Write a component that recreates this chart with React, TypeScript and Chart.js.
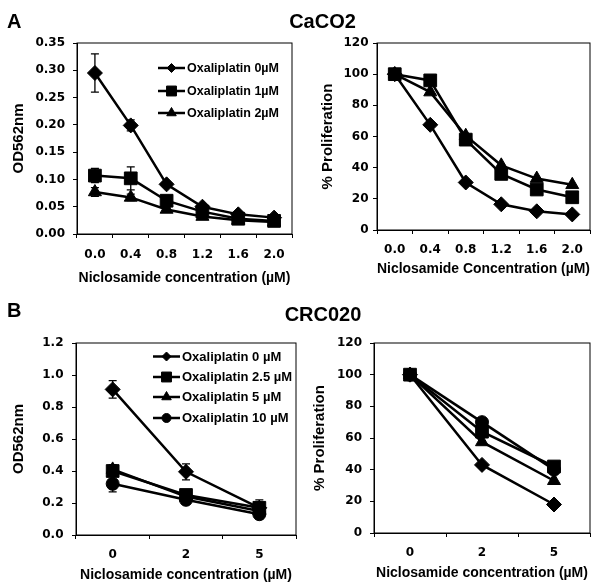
import React, { useEffect, useRef } from 'react';
import { Chart, registerables } from 'chart.js';
import { drawPoint } from 'chart.js/helpers';

Chart.register(...registerables);

// ---------- DATA ----------
const caco2Conc = ['0.0', '0.4', '0.8', '1.2', '1.6', '2.0'];
const caco2Series = ['Oxaliplatin 0µM', 'Oxaliplatin 1µM', 'Oxaliplatin 2µM'];
const caco2OdOx0 = [0.295, 0.199, 0.091, 0.05, 0.036, 0.03];
const caco2OdOx1 = [0.107, 0.102, 0.061, 0.041, 0.028, 0.024];
const caco2OdOx2 = [0.077, 0.067, 0.045, 0.032, 0.025, 0.022];
const caco2OdErr0 = [0.035, 0.01, 0.004, 0.003, 0.002, 0.002];
const caco2OdErr1 = [0.013, 0.021, 0.006, 0.003, 0.002, 0.002];
const caco2OdErr2 = [0.008, 0.006, 0.004, 0.002, 0.002, 0.002];
const caco2ProlifOx0 = [100, 67.5, 30.5, 16.5, 12, 10];
const caco2ProlifOx1 = [100, 96, 58, 36, 26, 21];
const caco2ProlifOx2 = [100, 88.5, 60.5, 41.5, 33, 29];

const crcConc = ['0', '2', '5'];
const crcSeries = ['Oxaliplatin 0 µM', 'Oxaliplatin 2.5 µM', 'Oxaliplatin 5 µM', 'Oxaliplatin 10 µM'];
const crcOdOx0 = [0.91, 0.395, 0.17];
const crcOdOx25 = [0.4, 0.25, 0.17];
const crcOdOx5 = [0.41, 0.24, 0.15];
const crcOdOx10 = [0.32, 0.22, 0.13];
const crcOdErr0 = [0.055, 0.05, 0.03];
const crcOdErr25 = [0.03, 0.02, 0.05];
const crcOdErr5 = [0.03, 0.02, 0.03];
const crcOdErr10 = [0.05, 0.02, 0.03];
const crcProlifOx0 = [100, 43, 18];
const crcProlifOx25 = [100, 64, 42];
const crcProlifOx5 = [100, 57.5, 33];
const crcProlifOx10 = [100, 70, 40];

// ---------- STYLE / LAYOUT ----------
const PAGE_W = 600;
const PAGE_H = 586;
const TICK_FONT = { family: '"DejaVu Sans", Verdana, sans-serif', size: 12, weight: 'bold' as const };
const XTITLE_FONT = { family: '"Liberation Sans", Arial, sans-serif', size: 14, weight: 'bold' as const };
const YTITLE_FONT = { family: '"Liberation Sans", Arial, sans-serif', size: 15, weight: 'bold' as const };

const MARKERS: Record<string, { style: string; radius: number; legendRadius: number }> = {
  diamond: { style: 'rectRot', radius: 7.5, legendRadius: 4.5 },
  square: { style: 'rect', radius: 9, legendRadius: 7 },
  triangle: { style: 'triangle', radius: 7.5, legendRadius: 5.5 },
  circle: { style: 'circle', radius: 6.5, legendRadius: 4.5 },
};

type Series = { label: string; data: number[]; err?: number[]; marker: string };
type Spec = {
  labels: string[];
  series: Series[];
  yMin: number;
  yMax: number;
  yStep: number;
  yDec: number;
  yTitle: string;
  xTitle: string;
  plot: { l: number; t: number; r: number; b: number };
  yTitleX: number;
  yTickPad: number;
  xTickY: number;
  xTitleY: number;
  legend?: { x0: number; x1: number; textX: number; ys: number[]; size: number };
};

const specs: Spec[] = [
  {
    labels: caco2Conc,
    series: [
      { label: caco2Series[0], data: caco2OdOx0, err: caco2OdErr0, marker: 'diamond' },
      { label: caco2Series[1], data: caco2OdOx1, err: caco2OdErr1, marker: 'square' },
      { label: caco2Series[2], data: caco2OdOx2, err: caco2OdErr2, marker: 'triangle' },
    ],
    yMin: 0, yMax: 0.35, yStep: 0.05, yDec: 2,
    yTitle: 'OD562nm',
    xTitle: 'Niclosamide concentration (µM)',
    plot: { l: 77, t: 43, r: 292, b: 234 },
    yTitleX: 19, yTickPad: 8, xTickY: 255, xTitleY: 278,
    legend: { x0: 158, x1: 185, textX: 187, ys: [68, 91, 113], size: 12.5 },
  },
  {
    labels: caco2Conc,
    series: [
      { label: caco2Series[0], data: caco2ProlifOx0, marker: 'diamond' },
      { label: caco2Series[1], data: caco2ProlifOx1, marker: 'square' },
      { label: caco2Series[2], data: caco2ProlifOx2, marker: 'triangle' },
    ],
    yMin: 0, yMax: 120, yStep: 20, yDec: 0,
    yTitle: '% Proliferation',
    xTitle: 'Niclosamide Concentration (µM)',
    plot: { l: 377, t: 43, r: 593, b: 230 },
    yTitleX: 327.5, yTickPad: 4.5, xTickY: 250, xTitleY: 269,
  },
  {
    labels: crcConc,
    series: [
      { label: crcSeries[0], data: crcOdOx0, err: crcOdErr0, marker: 'diamond' },
      { label: crcSeries[1], data: crcOdOx25, err: crcOdErr25, marker: 'square' },
      { label: crcSeries[2], data: crcOdOx5, err: crcOdErr5, marker: 'triangle' },
      { label: crcSeries[3], data: crcOdOx10, err: crcOdErr10, marker: 'circle' },
    ],
    yMin: 0, yMax: 1.2, yStep: 0.2, yDec: 1,
    yTitle: 'OD562nm',
    xTitle: 'Niclosamide concentration (µM)',
    plot: { l: 76, t: 343, r: 296, b: 535 },
    yTitleX: 19, yTickPad: 8.5, xTickY: 555, xTitleY: 575,
    legend: { x0: 153, x1: 180, textX: 182, ys: [356.5, 377, 397, 418], size: 13 },
  },
  {
    labels: crcConc,
    series: [
      { label: crcSeries[0], data: crcProlifOx0, marker: 'diamond' },
      { label: crcSeries[1], data: crcProlifOx25, marker: 'square' },
      { label: crcSeries[2], data: crcProlifOx5, marker: 'triangle' },
      { label: crcSeries[3], data: crcProlifOx10, marker: 'circle' },
    ],
    yMin: 0, yMax: 120, yStep: 20, yDec: 0,
    yTitle: '% Proliferation',
    xTitle: 'Niclosamide concentration (µM)',
    plot: { l: 374, t: 343, r: 593, b: 533 },
    yTitleX: 320, yTickPad: 8, xTickY: 553, xTitleY: 573,
  },
];

function Panel({ spec }: { spec: Spec }) {
  const ref = useRef<HTMLCanvasElement>(null);
  useEffect(() => {
    const s = spec;
    const padLeft = s.yTitleX - (YTITLE_FONT.size * 1.2) / 2;
    const xAxisBottom = s.xTitleY + (XTITLE_FONT.size * 1.2) / 2;
    const xTickPad = s.xTickY - s.plot.b - 4 - (TICK_FONT.size * 1.2) / 2;

    const framePlugin = {
      id: 'frame',
      beforeDatasetsDraw(chart: any) {
        const { ctx, chartArea: a } = chart;
        ctx.save();
        ctx.strokeStyle = '#000';
        ctx.lineWidth = 1;
        ctx.strokeRect(a.left, a.top, a.right - a.left, a.bottom - a.top);
        ctx.restore();
      },
    };

    const errorPlugin = {
      id: 'errorBars',
      beforeDatasetsDraw(chart: any) {
        const { ctx } = chart;
        const xs = chart.scales.x;
        const ys = chart.scales.y;
        ctx.save();
        ctx.strokeStyle = '#000';
        ctx.lineWidth = 1.3;
        s.series.forEach((se) => {
          if (!se.err) return;
          se.data.forEach((v, i) => {
            const e = se.err![i];
            const x = xs.getPixelForValue(i);
            const yt = ys.getPixelForValue(v + e);
            const yb = ys.getPixelForValue(v - e);
            ctx.beginPath();
            ctx.moveTo(x, yt);
            ctx.lineTo(x, yb);
            ctx.moveTo(x - 4, yt);
            ctx.lineTo(x + 4, yt);
            ctx.moveTo(x - 4, yb);
            ctx.lineTo(x + 4, yb);
            ctx.stroke();
          });
        });
        ctx.restore();
      },
    };

    const legendPlugin = {
      id: 'lineLegend',
      afterDraw(chart: any) {
        const lg = s.legend;
        if (!lg) return;
        const { ctx } = chart;
        ctx.save();
        s.series.forEach((se, i) => {
          const y = lg.ys[i];
          const m = MARKERS[se.marker];
          ctx.strokeStyle = '#000';
          ctx.fillStyle = '#000';
          ctx.lineWidth = 2.5;
          ctx.beginPath();
          ctx.moveTo(lg.x0, y);
          ctx.lineTo(lg.x1, y);
          ctx.stroke();
          ctx.lineWidth = 1;
          drawPoint(ctx, { pointStyle: m.style as any, radius: m.legendRadius, rotation: 0, borderWidth: 1 } as any, (lg.x0 + lg.x1) / 2, y);
          ctx.font = `bold ${lg.size}px "Liberation Sans", Arial, sans-serif`;
          ctx.textBaseline = 'middle';
          ctx.textAlign = 'left';
          ctx.fillText(se.label, lg.textX, y + 0.5);
        });
        ctx.restore();
      },
    };

    const chart = new Chart(ref.current as HTMLCanvasElement, {
      type: 'line',
      data: {
        labels: s.labels,
        datasets: s.series.map((se) => ({
          label: se.label,
          data: se.data,
          borderColor: '#000',
          backgroundColor: '#000',
          borderWidth: 2.5,
          pointStyle: MARKERS[se.marker].style as any,
          pointRadius: MARKERS[se.marker].radius,
          pointBackgroundColor: '#000',
          pointBorderColor: '#000',
          pointBorderWidth: 1,
          tension: 0,
          fill: false,
        })),
      },
      options: {
        responsive: false,
        maintainAspectRatio: false,
        animation: false,
        layout: {
          padding: {
            left: padLeft,
            top: s.plot.t,
            right: PAGE_W - s.plot.r,
            bottom: PAGE_H - xAxisBottom,
          },
        },
        plugins: { legend: { display: false }, tooltip: { enabled: false }, title: { display: false } },
        scales: {
          x: {
            type: 'category',
            offset: true,
            grid: { offset: true, drawOnChartArea: false, drawTicks: true, tickLength: 4, color: '#000', lineWidth: 1 },
            border: { display: true, color: '#000', width: 1 },
            ticks: { color: '#000', font: TICK_FONT, padding: xTickPad, autoSkip: false, maxRotation: 0, minRotation: 0 },
            title: { display: true, text: s.xTitle, color: '#000', font: XTITLE_FONT, padding: 0 },
            afterFit: (sc: any) => {
              sc.height = xAxisBottom - s.plot.b;
            },
          },
          y: {
            type: 'linear',
            min: s.yMin,
            max: s.yMax,
            grid: { drawOnChartArea: false, drawTicks: true, tickLength: 4, color: '#000', lineWidth: 1 },
            border: { display: true, color: '#000', width: 1 },
            ticks: {
              stepSize: s.yStep,
              color: '#000',
              font: TICK_FONT,
              padding: s.yTickPad,
              callback: (v: any) => Number(v).toFixed(s.yDec),
            },
            title: { display: true, text: s.yTitle, color: '#000', font: YTITLE_FONT, padding: 0 },
            afterFit: (sc: any) => {
              sc.width = s.plot.l - padLeft;
            },
          },
        },
      } as any,
      plugins: [framePlugin, errorPlugin, legendPlugin],
    });
    return () => chart.destroy();
  }, [spec]);
  return (
    <canvas
      ref={ref}
      width={PAGE_W}
      height={PAGE_H}
      style={{ position: 'absolute', left: 0, top: 0, width: PAGE_W, height: PAGE_H, display: 'block' }}
    />
  );
}

const labelStyle = (left: number, top: number, size: number, center = false): React.CSSProperties => ({
  position: 'absolute',
  left,
  top,
  fontFamily: '"Liberation Sans", Arial, sans-serif',
  fontWeight: 'bold',
  fontSize: size,
  lineHeight: `${size}px`,
  color: '#000',
  whiteSpace: 'nowrap',
  transform: center ? 'translateX(-50%)' : undefined,
});

export default function App() {
  return (
    <div style={{ position: 'absolute', left: 0, top: 0, width: PAGE_W, height: PAGE_H, background: '#fff', overflow: 'hidden' }}>
      {specs.map((sp, i) => (
        <Panel key={i} spec={sp} />
      ))}
      <div style={labelStyle(7, 11, 20)}>A</div>
      <div style={labelStyle(322.5, 11, 20, true)}>CaCO2</div>
      <div style={labelStyle(7, 299.5, 20)}>B</div>
      <div style={labelStyle(323, 303.5, 20, true)}>CRC020</div>
    </div>
  );
}
